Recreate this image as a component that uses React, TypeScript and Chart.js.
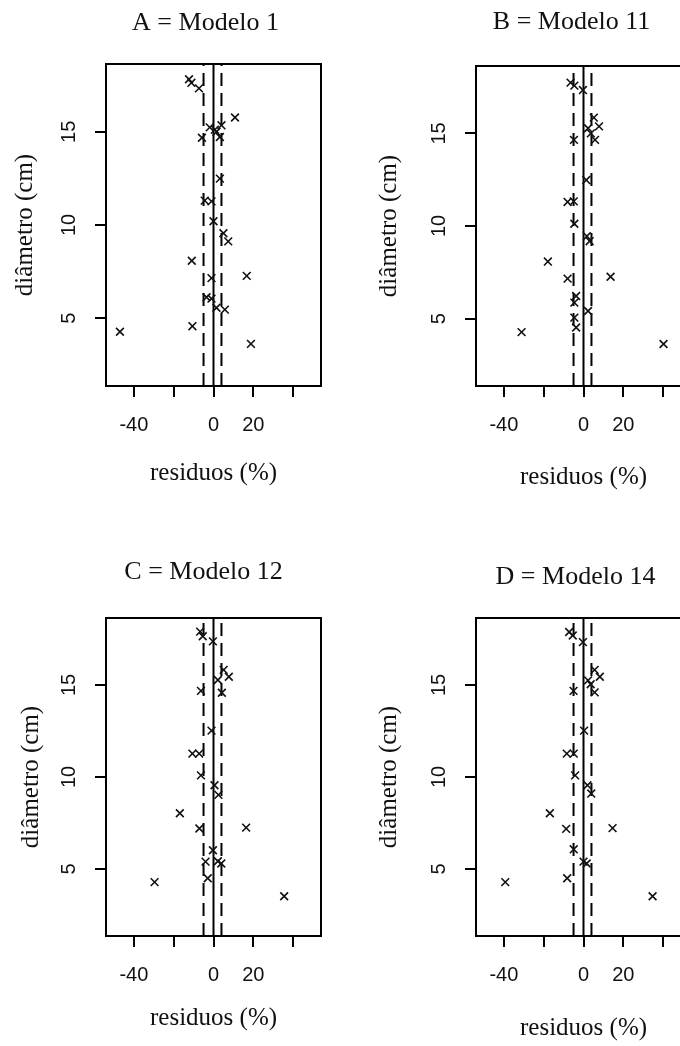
import React, { useEffect, useRef } from 'react';
import { Chart, registerables } from 'chart.js';

Chart.register(...registerables);

// ---------- data ----------
const panelTitles = ['A = Modelo 1', 'B = Modelo 11', 'C = Modelo 12', 'D = Modelo 14'];
const xAxisTitle = 'residuos (%)';
const yAxisTitle = 'diâmetro (cm)';
const xTickValues = [-40, -20, 0, 20, 40];
const xTickLabels = ['-40', '', '0', '20', ''];
const yTickValues = [5, 10, 15];
const xLimits = [-54, 54];
const yLimits = [1.36, 18.64];
const solidLineAt = 0;
const dashedLinesAt = [-5, 4];

const residuosA = [-12.3, -11.1, -7.3, 10.8, 4.0, -1.9, 0.7, 1.5, 3.2, -5.8, 3.2, -4.4, -1.0, 0.0, 5.0, 7.4, -10.9, 16.7, -1.0, -3.5, -1.0, 1.5, 5.7, -10.6, 18.8, -47.0];
const diametroA = [17.82, 17.63, 17.33, 15.77, 15.35, 15.24, 15.12, 15.0, 14.72, 14.68, 12.49, 11.31, 11.27, 10.2, 9.56, 9.12, 8.08, 7.27, 7.15, 6.12, 6.05, 5.56, 5.46, 4.57, 3.62, 4.27];

const residuosB = [-6.5, -4.6, -0.3, 5.2, 7.8, 2.3, 3.7, 5.8, -4.8, 1.4, -8.0, -4.9, -4.6, 1.7, 3.1, -17.9, 13.6, -8.0, -3.7, -4.6, 2.3, -4.6, -3.7, -31.1, 40.2];
const diametroB = [17.74, 17.58, 17.34, 15.85, 15.38, 15.28, 15.0, 14.65, 14.65, 12.48, 11.3, 11.33, 10.12, 9.45, 9.18, 8.08, 7.26, 7.16, 6.22, 5.86, 5.41, 5.05, 4.52, 4.27, 3.63];

const residuosC = [-6.7, -5.4, -0.3, 5.1, 7.7, 2.2, 4.2, -6.3, -1.0, -10.6, -7.2, -6.3, 0.5, 2.5, -16.9, 16.4, -7.1, -0.3, -4.0, 2.2, 3.9, -2.9, -29.6, 35.5];
const diametroC = [17.9, 17.65, 17.37, 15.82, 15.45, 15.27, 14.58, 14.68, 12.52, 11.27, 11.27, 10.09, 9.55, 9.03, 8.03, 7.25, 7.2, 6.02, 5.4, 5.42, 5.3, 4.5, 4.29, 3.52];

const residuosD = [-7.2, -5.4, -0.3, 5.6, 8.2, 2.3, 3.6, 5.6, -5.0, 0.3, -8.4, -4.9, -4.2, 2.0, 3.9, -16.9, 14.6, -8.7, -4.9, 0.0, 1.6, -8.2, -39.3, 34.7];
const diametroD = [17.88, 17.69, 17.33, 15.82, 15.45, 15.25, 15.04, 14.6, 14.68, 12.52, 11.27, 11.27, 10.09, 9.55, 9.1, 8.03, 7.22, 7.18, 6.07, 5.4, 5.3, 4.5, 4.29, 3.52];

// ---------- layout (positions only) ----------
const layouts = [
  { left: 0, top: 0, w: 340, h: 520, areaTop: 64, areaBottom: 386, titleY: 23, titleShift: -8, xTitleY: 473, yTitleX: 25 },
  { left: 370, top: 0, w: 340, h: 520, areaTop: 66, areaBottom: 386, titleY: 22, titleShift: -12, xTitleY: 477, yTitleX: 19 },
  { left: 0, top: 520, w: 340, h: 526, areaTop: 98, areaBottom: 416, titleY: 52, titleShift: -10, xTitleY: 498, yTitleX: 31 },
  { left: 370, top: 520, w: 340, h: 526, areaTop: 98, areaBottom: 416, titleY: 57, titleShift: -8, xTitleY: 508, yTitleX: 19 },
];

const SERIF = '"Liberation Serif", "Times New Roman", serif';
const SANS = '"Liberation Sans", Arial, sans-serif';
const TEXT = '#111';
const TITLE_SIZE = 26;
const AXIS_TITLE_SIZE = 25;
const TICK_SIZE = 20;
const TICK_LEN = 11;
const AREA_LEFT = 106;
const AREA_RIGHT_PAD = 19;

const boxPlugin = {
  id: 'box',
  afterDraw(chart: any) {
    const { ctx, chartArea: a } = chart;
    ctx.save();
    ctx.strokeStyle = '#000';
    ctx.lineWidth = 2;
    ctx.strokeRect(a.left, a.top, a.right - a.left, a.bottom - a.top);
    ctx.restore();
  },
};

function Panel({ lay, title, res, diam }: any) {
  const ref = useRef<HTMLCanvasElement>(null);
  useEffect(() => {
    const points = res.map((x: number, i: number) => ({ x, y: diam[i] }));
    const vline = (x: number) => [
      { x, y: yLimits[0] },
      { x, y: yLimits[1] },
    ];
    const tLH = TITLE_SIZE * 1.2;
    const aLH = AXIS_TITLE_SIZE * 1.2;
    const kLH = TICK_SIZE * 1.2;
    const titleShiftPlugin = {
      id: 'titleShift',
      afterLayout(chart: any) {
        const tb = chart.titleBlock;
        if (tb) {
          tb.left += lay.titleShift;
          tb.right += lay.titleShift;
        }
      },
    };
    const chart = new Chart(ref.current as HTMLCanvasElement, {
      type: 'scatter',
      data: {
        datasets: [
          {
            data: points,
            pointStyle: 'crossRot',
            pointRadius: 5.5,
            pointBorderWidth: 1.6,
            borderColor: '#111',
            backgroundColor: '#111',
            showLine: false,
          } as any,
          {
            data: vline(solidLineAt),
            showLine: true,
            borderColor: '#000',
            borderWidth: 2,
            pointRadius: 0,
          },
          ...dashedLinesAt.map((x) => ({
            data: vline(x),
            showLine: true,
            borderColor: '#000',
            borderWidth: 2,
            borderDash: [13, 7],
            pointRadius: 0,
          })),
        ],
      },
      options: {
        responsive: false,
        maintainAspectRatio: false,
        animation: false,
        layout: { padding: { left: 0, right: AREA_RIGHT_PAD, top: 0, bottom: 0 } },
        plugins: {
          legend: { display: false },
          tooltip: { enabled: false },
          title: {
            display: true,
            text: title,
            fullSize: false,
            color: TEXT,
            font: { family: SERIF, size: TITLE_SIZE, weight: 'normal', lineHeight: 1.2 },
            padding: {
              top: lay.titleY - tLH / 2,
              bottom: lay.areaTop - lay.titleY - tLH / 2,
            },
          },
        },
        scales: {
          x: {
            type: 'linear',
            min: xLimits[0],
            max: xLimits[1],
            afterBuildTicks: (scale: any) => {
              scale.ticks = xTickValues.map((v) => ({ value: v }));
            },
            afterFit: (scale: any) => {
              scale.height = lay.h - lay.areaBottom;
            },
            grid: { drawOnChartArea: false, drawTicks: true, tickLength: TICK_LEN, lineWidth: 2, color: '#000' },
            border: { display: false },
            ticks: {
              autoSkip: false,
              maxRotation: 0,
              padding: 39 - TICK_LEN - kLH / 2,
              color: TEXT,
              font: { family: SANS, size: TICK_SIZE },
              callback: (_v: any, i: number) => xTickLabels[i],
            },
            title: {
              display: true,
              text: xAxisTitle,
              color: TEXT,
              font: { family: SERIF, size: AXIS_TITLE_SIZE, lineHeight: 1.2 },
              padding: { top: 0, bottom: lay.h - lay.xTitleY - aLH / 2 },
            },
          },
          y: {
            type: 'linear',
            min: yLimits[0],
            max: yLimits[1],
            afterBuildTicks: (scale: any) => {
              scale.ticks = yTickValues.map((v) => ({ value: v }));
            },
            afterFit: (scale: any) => {
              scale.width = AREA_LEFT;
            },
            grid: { drawOnChartArea: false, drawTicks: true, tickLength: TICK_LEN, lineWidth: 2, color: '#000' },
            border: { display: false },
            ticks: {
              autoSkip: false,
              minRotation: 90,
              maxRotation: 90,
              crossAlign: 'center',
              padding: 14,
              color: TEXT,
              font: { family: SANS, size: TICK_SIZE },
            },
            title: {
              display: true,
              text: yAxisTitle,
              color: TEXT,
              font: { family: SERIF, size: AXIS_TITLE_SIZE, lineHeight: 1.2 },
              padding: { top: lay.yTitleX - aLH / 2, bottom: 0 },
            },
          },
        },
      } as any,
      plugins: [boxPlugin, titleShiftPlugin],
    });
    return () => chart.destroy();
  }, []);
  return (
    <canvas
      ref={ref}
      width={lay.w}
      height={lay.h}
      style={{ position: 'absolute', left: lay.left, top: lay.top, width: lay.w, height: lay.h }}
    />
  );
}

export default function App() {
  const series = [
    [residuosA, diametroA],
    [residuosB, diametroB],
    [residuosC, diametroC],
    [residuosD, diametroD],
  ];
  return (
    <div
      style={{
        position: 'fixed',
        left: 0,
        top: 0,
        width: 680,
        height: 1046,
        overflow: 'hidden',
        background: '#fff',
      }}
    >
      {layouts.map((lay, i) => (
        <Panel key={i} lay={lay} title={panelTitles[i]} res={series[i][0]} diam={series[i][1]} />
      ))}
    </div>
  );
}
